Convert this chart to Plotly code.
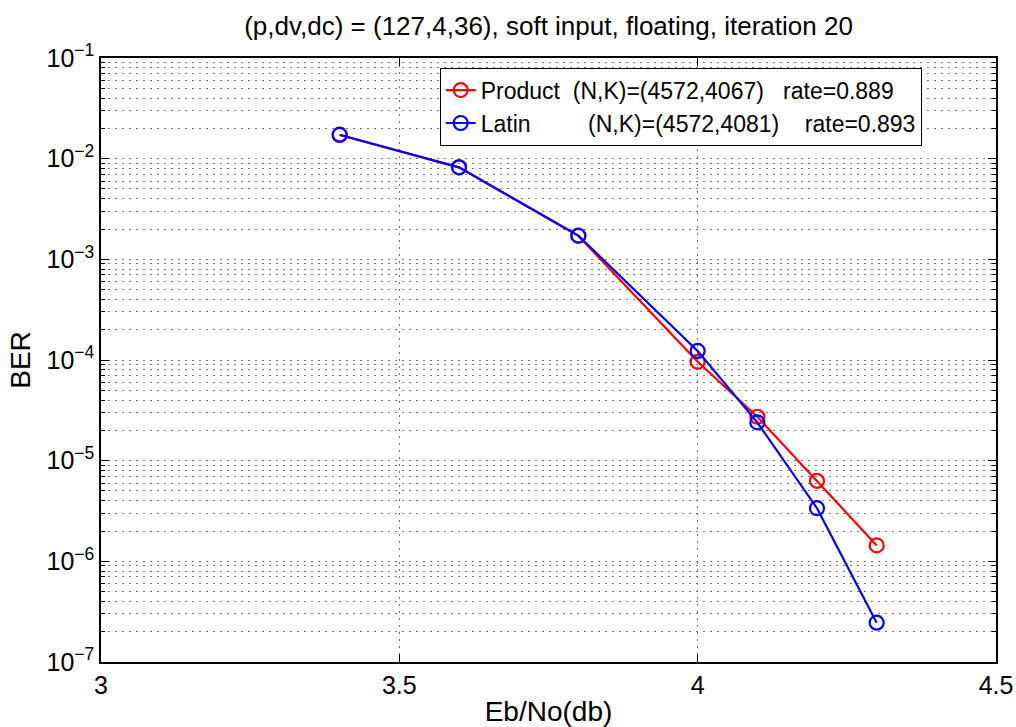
import plotly.graph_objects as go

ebno = [3.4, 3.6, 3.8, 4.0, 4.1, 4.2, 4.3]
ber_product = [1.72e-2, 8.2e-3, 1.71e-3, 9.6e-5, 2.73e-5, 6.3e-6, 1.44e-6]
ber_latin = [1.73e-2, 8.2e-3, 1.72e-3, 1.23e-4, 2.4e-5, 3.37e-6, 2.46e-7]

name_product = "Product\u00a0\u00a0(N,K)=(4572,4067)\u00a0\u00a0\u00a0rate=0.889"
name_latin = "Latin\u00a0\u00a0\u00a0\u00a0\u00a0\u00a0\u00a0\u00a0\u00a0(N,K)=(4572,4081)\u00a0\u00a0\u00a0\u00a0rate=0.893"

x_ticks = [3, 3.5, 4, 4.5]
x_ticktext = ["3", "3.5", "4", "4.5"]
y_ticks = [1e-1, 1e-2, 1e-3, 1e-4, 1e-5, 1e-6, 1e-7]
y_ticktext = ["10<sup>\u22121</sup>", "10<sup>\u22122</sup>", "10<sup>\u22123</sup>", "10<sup>\u22124</sup>",
              "10<sup>\u22125</sup>", "10<sup>\u22126</sup>", "10<sup>\u22127</sup>"]

FONT = "Liberation Sans"
GRID = "#777777"
DASH = "2px,5px"

fig = go.Figure()
fig.add_trace(go.Scatter(x=ebno, y=ber_product, name=name_product, mode="lines+markers",
                         line=dict(color="#ff0000", width=2.2),
                         marker=dict(symbol="circle-open", size=14, color="#ff0000", line=dict(width=2.2))))
fig.add_trace(go.Scatter(x=ebno, y=ber_latin, name=name_latin, mode="lines+markers",
                         line=dict(color="#0000ff", width=2.2),
                         marker=dict(symbol="circle-open", size=14, color="#0000ff", line=dict(width=2.2))))

fig.update_layout(
    width=1016, height=727,
    margin=dict(l=101, r=20, t=58, b=65, autoexpand=False),
    paper_bgcolor="white", plot_bgcolor="white",
    font=dict(family=FONT, size=25, color="black"),
    title=dict(text="(p,dv,dc) = (127,4,36), soft input, floating, iteration 20",
               x=(101 + 996) / 2 / 1016, xanchor="center", y=1 - 26 / 727, yanchor="middle",
               font=dict(family=FONT, size=26, color="black")),
    showlegend=True,
    legend=dict(x=0.917, xanchor="right", y=0.984, yanchor="top",
                bgcolor="white", bordercolor="black", borderwidth=1,
                font=dict(family=FONT, size=23, color="black"),
                tracegroupgap=0, itemwidth=30),
)

fig.update_xaxes(range=[3, 4.5], tickvals=x_ticks, ticktext=x_ticktext,
                 showline=True, linecolor="black", linewidth=1.5, mirror="ticks",
                 ticks="inside", ticklen=8, tickcolor="black",
                 showgrid=True, gridcolor=GRID, griddash=DASH, gridwidth=1,
                 zeroline=False, automargin=False,
                 title=dict(text="Eb/No(db)", standoff=4, font=dict(family=FONT, size=28)),
                 tickfont=dict(family=FONT, size=25))
fig.update_yaxes(type="log", range=[-7, -1], tickvals=y_ticks, ticktext=y_ticktext,
                 showline=True, linecolor="black", linewidth=1.5, mirror="ticks",
                 ticks="inside", ticklen=8, tickcolor="black",
                 showgrid=True, gridcolor=GRID, griddash=DASH, gridwidth=1,
                 minor=dict(dtick="D1", showgrid=True, gridcolor=GRID, griddash=DASH,
                            ticks="inside", ticklen=4, tickcolor="black"),
                 zeroline=False, automargin=False,
                 title=dict(text="BER", standoff=8, font=dict(family=FONT, size=28)),
                 tickfont=dict(family=FONT, size=25))

fig.write_html("out.html", config={"displayModeBar": False},
               post_script="document.body.style.margin='0';document.body.style.overflow='hidden';")
